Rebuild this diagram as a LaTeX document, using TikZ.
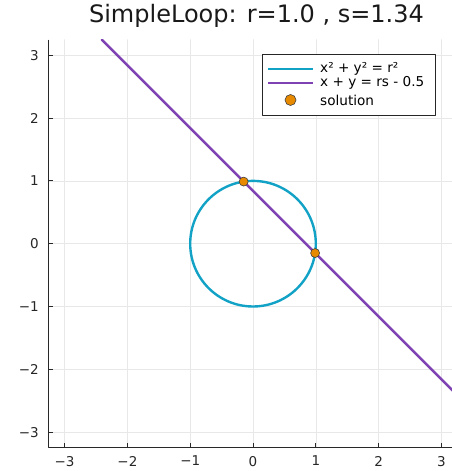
\documentclass[tikz,border=0pt]{standalone}
\usepackage{fontspec}
\setmainfont{DejaVu Sans}
\usepackage{xcolor}
\usepackage{tikz}
\usetikzlibrary{positioning}

\begin{document}
\begin{tikzpicture}[
      % one picture unit = one pixel of the reference
      x=1pt,
      y=1pt,
      line join=round,
      line cap=round
  ]

  % Parametri della figura
  \def\ox{253}    % pixel column of x = 0
  \def\oy{227.3}  % pixel row of y = 0
  \def\u{62.8}    % pixels per unit
  \def\c{0.84}    % r*s - 0.5

  % Palette
  \definecolor{circleteal}{RGB}{18, 162, 198}
  \definecolor{linepurple}{RGB}{126, 66, 178}
  \definecolor{solorange}{RGB}{232, 138, 0}
  \definecolor{spinegray}{RGB}{40, 40, 40}

  \tikzset{
      gridline/.style={draw=black!9, line width=0.6pt},
      spine/.style={draw=spinegray, line width=1.1pt, line cap=butt},
      tickmark/.style={draw=spinegray, line width=1pt, line cap=butt},
      ticklabel/.style={font=\fontsize{13.5}{15}\selectfont, text=black!85, inner sep=0pt},
      circlecurve/.style={draw=circleteal, line width=2.4pt},
      linecurve/.style={draw=linepurple, line width=2.4pt},
      solution/.style={circle, draw=black!75, line width=0.6pt, fill=solorange, inner sep=0pt, minimum size=9pt},
      legendtext/.style={font=\fontsize{13.6}{15}\selectfont, anchor=west, inner sep=0pt}
  }

  \useasboundingbox (0,0) rectangle (452,471);

  % 1. Titolo
  \node[font=\fontsize{24}{28}\selectfont, text=black!90] (title) at (256.5,455) {SimpleLoop: r=1.0 , s=1.34};

  \begin{scope}[shift={(\ox,\oy)}, x=\u pt, y=\u pt]
    % 2. Griglia
    \foreach \k in {-3,...,3} {
      \draw[gridline] (\k,-3.25) -- (\k,3.25);
      \draw[gridline] (-3.25,\k) -- (3.3,\k);
    }

    % 3. Curve
    \begin{scope}
      \clip (-3.25,-3.25) rectangle (3.17,3.25);
      \draw[circlecurve] (0,0) circle (1);
      \draw[linecurve] (\c-3.25,3.25) -- (3.25,\c-3.25);
    \end{scope}

    % 4. Assi e tacche
    \draw[spine] (-3.25,3.25) -- (-3.25,-3.25) -- (3.3,-3.25);
    \foreach \k in {-3,...,3} {
      \draw[tickmark] (\k,-3.25) -- ++(0,4.5pt);
      \draw[tickmark] (-3.25,\k) -- ++(4.5pt,0);
      \node[ticklabel, anchor=north, yshift=-8pt] (xt\k) at (\k,-3.25) {\ifnum\k<0 −\number-\k\else\k\fi};
      \node[ticklabel, anchor=east, xshift=-10pt] (yt\k) at (-3.25,\k) {\ifnum\k<0 −\number-\k\else\k\fi};
    }

    % 5. Soluzioni
    \node[solution] (sol1) at (-0.1489,0.9889) {};
    \node[solution] (sol2) at (0.9889,-0.1489) {};
  \end{scope}

  % 6. Legenda
  \draw[draw=black!85, fill=white, line width=0.8pt] (262,417) rectangle (435,356);
  \draw[circlecurve, line cap=butt] (268,402) -- (313,402);
  \draw[linecurve, line cap=butt] (268,388) -- (313,388);
  \node[solution, minimum size=11pt] (legsol) at (290.5,371) {};
  \node[legendtext] (leg1) at (320,402) {x² + y² = r²};
  \node[legendtext] (leg2) at (320,388) {x + y = rs - 0.5};
  \node[legendtext] (leg3) at (320,371) {solution};

\end{tikzpicture}
\end{document}
